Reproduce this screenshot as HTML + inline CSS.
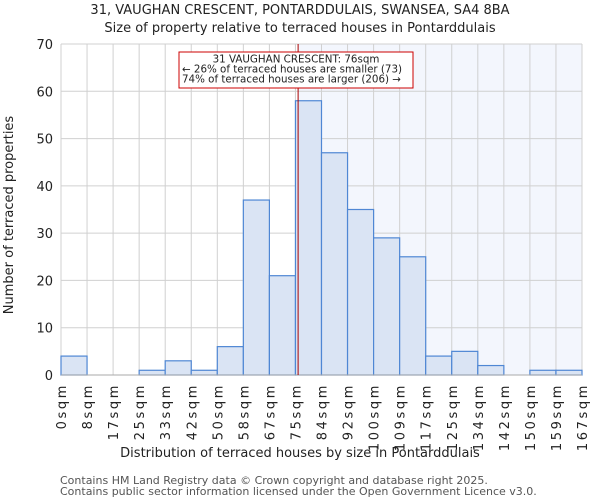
<!DOCTYPE html>
<html><head><meta charset="utf-8"><style>
body{margin:0;background:#fff;font-family:"DejaVu Sans","Liberation Sans",sans-serif}
svg text{font-family:"DejaVu Sans","Liberation Sans",sans-serif;fill:#222}
</style></head><body>
<svg id="chart" width="600" height="500" xmlns="http://www.w3.org/2000/svg">
<text x="300" y="14" text-anchor="middle" font-size="13">31, VAUGHAN CRESCENT, PONTARDDULAIS, SWANSEA, SA4 8BA</text>
<text x="300" y="32" text-anchor="middle" font-size="13">Size of property relative to terraced houses in Pontarddulais</text>
<g id="plot"></g>
<text x="300" y="457" text-anchor="middle" font-size="13">Distribution of terraced houses by size in Pontarddulais</text>
<text transform="translate(13,215) rotate(-90)" text-anchor="middle" font-size="13">Number of terraced properties</text>
<text x="60" y="484" font-size="11" style="fill:#555">Contains HM Land Registry data © Crown copyright and database right 2025.</text>
<text x="60" y="495" font-size="11" style="fill:#555">Contains public sector information licensed under the Open Government Licence v3.0.</text>
</svg>
<script>
const binLabels=["0sqm","8sqm","17sqm","25sqm","33sqm","42sqm","50sqm","58sqm","67sqm","75sqm","84sqm","92sqm","100sqm","109sqm","117sqm","125sqm","134sqm","142sqm","150sqm","159sqm","167sqm"];
const counts=[4,0,0,1,3,1,6,37,21,58,47,35,29,25,4,5,2,0,1,1];
const yTicks=[0,10,20,30,40,50,60,70];
const binMax=167;
const markerValue=76;
const annotationLines=["31 VAUGHAN CRESCENT: 76sqm","← 26% of terraced houses are smaller (73)","74% of terraced houses are larger (206) →"];

const NS="http://www.w3.org/2000/svg";
const g=document.getElementById('plot');
const X0=61,X1=582,Y0=375,Y1=44,YMAX=70;
const n=counts.length,bw=(X1-X0)/n;
const xs=v=>X0+v/binMax*(X1-X0);
const ys=v=>Y0-v/YMAX*(Y0-Y1);
function mk(t,a){const e=document.createElementNS(NS,t);for(const k in a)e.setAttribute(k,a[k]);g.appendChild(e);return e;}
const mx=xs(markerValue);
let r=mk('rect',{x:mx,y:Y1,width:X1-mx,height:Y0-Y1,fill:'#f3f6fd'});


yTicks.forEach(t=>{
 let l=mk('line',{x1:X0,x2:X1,y1:ys(t),y2:ys(t),stroke:'#d0d0d0'});
 
 
 let tx=mk('text',{x:X0-8,y:ys(t)+5,'text-anchor':'end','font-size':13});
 tx.textContent=t;
 
 
});
binLabels.forEach((lb,i)=>{
 const x=X0+i*bw;
 let l=mk('line',{x1:x,x2:x,y1:Y1,y2:Y0,stroke:'#d0d0d0'});
 
 
 let tx=mk('text',{transform:`translate(${x+5},${Y0+8}) rotate(-90)`,'text-anchor':'end','font-size':13,'letter-spacing':'2.6'});
 tx.textContent=lb;
 
 
});
counts.forEach((c,i)=>{
 if(c<=0)return;
 let b=mk('rect',{x:X0+i*bw,y:ys(c),width:bw,height:Y0-ys(c),fill:'#dae4f4',stroke:'#4f87d4','stroke-width':1.2});
 
 
});
let ax=mk('line',{x1:X0,x2:X1,y1:Y0,y2:Y0,stroke:'#aaa'});


let ml=mk('line',{x1:mx,x2:mx,y1:Y1,y2:Y0,stroke:'#a00','stroke-width':1});


let box=mk('rect',{x:179,y:52,width:234,height:36,fill:'#fff',stroke:'#c00','stroke-width':1});


annotationLines.forEach((s,i)=>{
 let t=mk('text',{x:i==0?296:182,y:62.5+i*10,'text-anchor':i==0?'middle':'start','font-size':10.3});
 t.textContent=s;
 
 
});
</script>
</body></html>
